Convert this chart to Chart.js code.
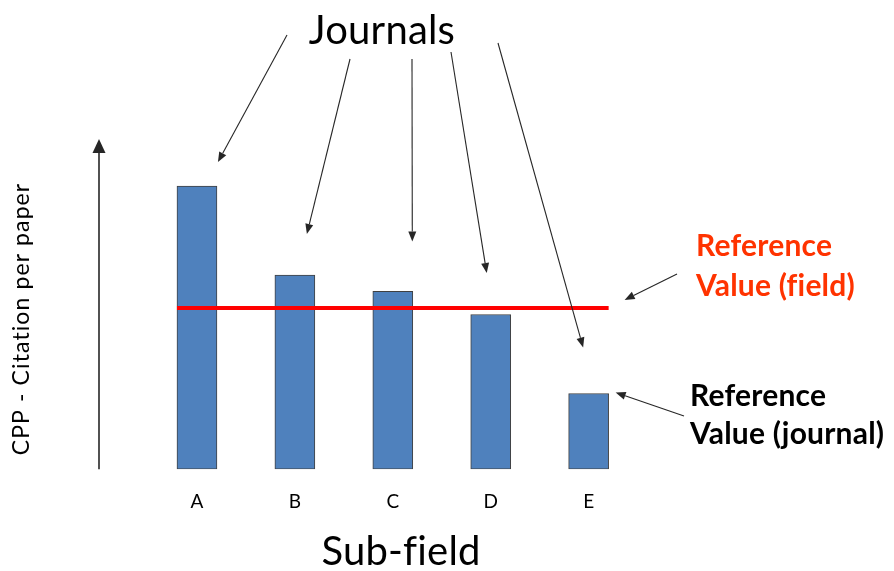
<!DOCTYPE html>
<html>
<head>
<meta charset="utf-8">
<script src="https://cdn.jsdelivr.net/npm/chart.js@4"></script>
<style>
  html, body { margin: 0; padding: 0; background: #fff; }
  canvas { display: block; }
</style>
</head>
<body>
<canvas id="cpp" width="894" height="571"></canvas>
<script>
// Citations per paper of each journal, grouped by sub-field
const subFields = ['A', 'B', 'C', 'D', 'E'];
const journalCpp = [8.6, 5.9, 5.4, 4.7, 2.3];
// Field-wide reference value
const fieldCpp = 4.9;
const cppMax = 10;

const ink = '#262626';
const fieldRed = '#FF3300';

function drawArrow(ctx, x1, y1, x2, y2, head, halfW) {
  const a = Math.atan2(y2 - y1, x2 - x1);
  const bx = x2 - head * Math.cos(a), by = y2 - head * Math.sin(a);
  ctx.beginPath();
  ctx.moveTo(x1, y1);
  ctx.lineTo(bx, by);
  ctx.stroke();
  ctx.beginPath();
  ctx.moveTo(x2, y2);
  ctx.lineTo(bx + halfW * Math.sin(a), by - halfW * Math.cos(a));
  ctx.lineTo(bx - halfW * Math.sin(a), by + halfW * Math.cos(a));
  ctx.closePath();
  ctx.fill();
}

// Callouts: arrows from the "Journals" heading down to each bar (tip offset from the bar top)
const journalCallouts = [
  { from: [287, 35], dx: 21,   gap: 24 },
  { from: [350, 59], dx: 12,   gap: 41 },
  { from: [412, 59], dx: 19.5, gap: 50 },
  { from: [451, 52], dx: -4,   gap: 41.5 },
  { from: [498, 43], dx: -5.5, gap: 46 }
];

const schematic = {
  id: 'schematic',
  afterDatasetsDraw(chart) {
    const { ctx, chartArea, scales } = chart;
    const bars = chart.getDatasetMeta(0).data;
    ctx.save();

    // field reference line across all bars
    const yRef = scales.y.getPixelForValue(fieldCpp);
    const first = bars[0], last = bars[bars.length - 1];
    const xStart = first.x - first.width / 2;
    const xEnd = last.x + last.width / 2;
    ctx.strokeStyle = '#FF0000';
    ctx.lineWidth = 4;
    ctx.beginPath();
    ctx.moveTo(xStart, yRef);
    ctx.lineTo(xEnd, yRef);
    ctx.stroke();

    // vertical axis arrow
    ctx.strokeStyle = ink;
    ctx.fillStyle = ink;
    ctx.lineWidth = 1.6;
    const ax = chartArea.left - 49;
    drawArrow(ctx, ax, chartArea.bottom, ax, chartArea.top - 1, 14, 6.5);

    // journal callouts
    ctx.lineWidth = 1.1;
    journalCallouts.forEach((c, i) => {
      const b = bars[i];
      drawArrow(ctx, c.from[0], c.from[1], b.x + c.dx, b.y - c.gap, 10, 4);
    });

    // field reference callout
    drawArrow(ctx, 677, 274, xEnd + 16, yRef - 8, 10, 4);
    // journal reference callout (bar E)
    drawArrow(ctx, 684, 416, last.x + last.width / 2 + 7, last.y - 1, 10, 4);

    // texts (slight letter spacing keeps "fi" as two glyphs)
    ctx.fillStyle = '#000';
    ctx.textAlign = 'center';
    ctx.textBaseline = 'alphabetic';
    ctx.letterSpacing = '0.2px';
    ctx.font = '40px Lato';
    ctx.fillText('Journals', 382, 44);
    ctx.fillText('Sub-field', 401, 565);

    ctx.save();
    ctx.translate(22, 319);
    ctx.rotate(-Math.PI / 2);
    ctx.textBaseline = 'middle';
    ctx.font = '23px Lato';
    ctx.letterSpacing = '1.1px';
    ctx.fillText('CPP - Citation per paper', 0, 0);
    ctx.restore();

    ctx.textAlign = 'left';
    ctx.letterSpacing = '0.2px';
    ctx.font = 'bold 30px Lato';
    ctx.fillStyle = fieldRed;
    ctx.fillText('Reference', 696, 256);
    ctx.fillText('Value (field)', 696, 296);
    ctx.fillStyle = '#000';
    ctx.fillText('Reference', 690, 406);
    ctx.fillText('Value (journal)', 690, 444);

    ctx.restore();
  }
};

function build() {
  Chart.defaults.font.family = 'Lato';
  new Chart(document.getElementById('cpp'), {
    type: 'bar',
    data: {
      labels: subFields,
      datasets: [{
        data: journalCpp,
        backgroundColor: '#4F81BD',
        borderColor: '#404040',
        borderWidth: 1,
        borderSkipped: false,
        barThickness: 40
      }]
    },
    options: {
      responsive: false,
      animation: false,
      devicePixelRatio: 1,
      layout: { padding: { left: 148, right: 256.4, top: 140, bottom: 37 } },
      plugins: { legend: { display: false }, tooltip: { enabled: false } },
      scales: {
        x: {
          grid: { display: false, drawTicks: false },
          border: { display: false },
          ticks: { color: '#000', padding: 21, font: { size: 19 } }
        },
        y: {
          display: false,
          min: 0,
          max: cppMax
        }
      }
    },
    plugins: [schematic]
  });
}

if (document.fonts && document.fonts.load) {
  Promise.all([
    document.fonts.load('40px Lato'),
    document.fonts.load('bold 30px Lato')
  ]).then(build, build);
} else {
  build();
}
</script>
</body>
</html>
